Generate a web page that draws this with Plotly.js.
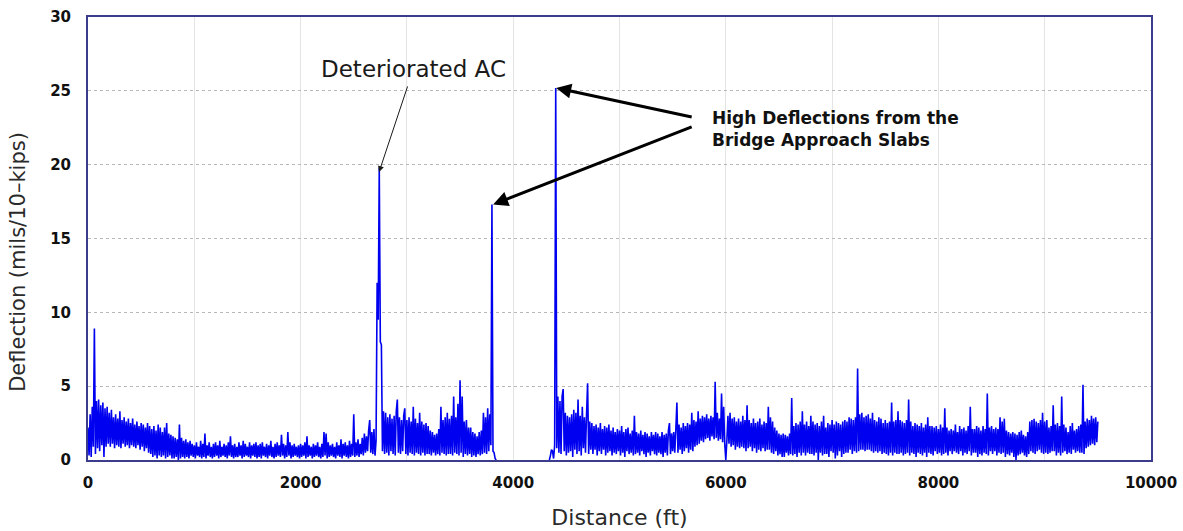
<!DOCTYPE html>
<html>
<head>
<meta charset="utf-8">
<script src="https://cdn.plot.ly/plotly-3.0.1.min.js"></script>
<style>html,body{margin:0;padding:0;background:#fff;}#chart{width:1183px;height:531px;}</style>
</head>
<body>
<div id="chart"></div>
<script>
// Survey stations (ft): each segment starts at a distance and is sampled every 10 ft
const stationStepFt = 10;
const segment1StartFt = 0;
const segment2StartFt = 4340;

// Deflection (mils/10-kips), segment 1: 0 - 3840 ft (one row = 200 ft)
const segment1Deflection = [
  2.2, 0.3, 3.1, 0.2, 3.6, 0.9, 8.9, 0.4, 4.0, 0.8, 4.1, 0.6, 3.7, 1.0, 3.9, 0.2, 3.5, 0.9, 3.6, 1.1,
  3.2, 0.9, 3.4, 1.1, 2.9, 0.8, 3.1, 1.0, 2.8, 0.9, 3.3, 0.8, 2.7, 1.1, 2.9, 0.9, 2.6, 1.0, 2.8, 0.8,
  2.5, 1.0, 2.8, 0.9, 2.4, 0.8, 2.6, 1.0, 2.3, 0.7, 2.5, 0.9, 2.4, 0.6, 2.2, 0.8, 2.5, 0.5, 2.3, 0.4,
  2.1, 0.2, 2.3, 0.3, 2.0, 0.1, 2.4, 0.3, 2.2, 0.2, 1.9, 0.3, 2.2, 0.1, 2.5, 0.2, 1.8, 0.3, 1.7, 0.1,
  1.6, 0.1, 1.5, 0.2, 1.4, 0.0, 2.4, 0.1, 1.5, 0.2, 1.3, 0.1, 1.4, 0.2, 1.2, 0.1, 1.3, 0.3, 1.1, 0.2,
  1.0, 0.1, 1.2, 0.3, 0.9, 0.2, 1.3, 0.1, 1.1, 0.2, 1.8, 0.1, 1.0, 0.3, 1.2, 0.2, 0.9, 0.1, 1.1, 0.2,
  1.2, 0.3, 1.0, 0.1, 1.3, 0.2, 0.9, 0.3, 1.1, 0.2, 1.0, 0.1, 1.2, 0.3, 1.6, 0.2, 1.0, 0.1, 1.1, 0.2,
  0.9, 0.2, 1.2, 0.3, 1.0, 0.1, 1.3, 0.2, 1.1, 0.3, 0.9, 0.2, 1.2, 0.1, 1.0, 0.3, 1.1, 0.2, 1.2, 0.1,
  1.0, 0.2, 1.1, 0.1, 1.2, 0.3, 0.9, 0.2, 1.1, 0.1, 1.0, 0.3, 1.3, 0.2, 0.9, 0.1, 1.1, 0.2, 1.2, 0.3,
  1.0, 0.2, 1.7, 0.3, 1.1, 0.1, 1.0, 0.2, 1.9, 0.3, 1.2, 0.1, 1.0, 0.2, 1.1, 0.3, 0.9, 0.2, 1.0, 0.1,
  1.1, 0.2, 1.0, 0.3, 1.2, 0.1, 1.6, 0.2, 1.0, 0.3, 0.9, 0.1, 1.1, 0.2, 1.0, 0.3, 1.2, 0.2, 0.9, 0.1,
  1.1, 0.2, 1.9, 0.3, 1.8, 0.1, 1.2, 0.2, 1.0, 0.3, 1.1, 0.2, 0.9, 0.1, 1.2, 0.3, 1.0, 0.2, 1.4, 0.1,
  1.1, 0.3, 1.2, 0.2, 1.0, 0.1, 1.3, 0.2, 1.1, 0.3, 3.1, 0.2, 1.2, 0.3, 1.4, 0.2, 1.1, 0.4, 1.5, 0.3,
  1.8, 0.5, 1.6, 0.6, 2.0, 2.7, 0.5, 1.9, 0.4, 2.1, 0.3, 1.3, 12.0, 9.5, 19.8, 8.0, 7.8, 0.6, 3.3, 0.4,
  3.2, 0.5, 2.9, 0.3, 3.1, 0.6, 2.8, 0.4, 3.0, 0.3, 3.3, 4.1, 0.5, 2.9, 0.4, 2.7, 0.6, 3.0, 3.5, 0.4,
  2.7, 0.3, 2.9, 0.5, 2.6, 0.4, 3.6, 0.3, 2.8, 0.5, 2.5, 0.4, 3.2, 0.3, 2.6, 0.5, 2.4, 0.3, 2.5, 0.4,
  2.3, 0.4, 2.0, 0.3, 1.9, 0.5, 1.7, 0.3, 1.8, 0.4, 2.1, 0.3, 3.6, 0.5, 2.7, 0.4, 2.9, 0.3, 3.2, 0.4,
  2.8, 0.4, 3.0, 0.3, 4.3, 0.5, 2.9, 0.4, 3.8, 0.3, 5.4, 0.5, 4.3, 0.2, 2.6, 0.4, 2.7, 0.3, 2.2, 0.4,
  2.2, 0.2, 1.9, 0.3, 1.8, 0.2, 1.6, 0.4, 1.9, 0.3, 2.0, 0.4, 3.2, 0.5, 2.9, 0.4, 3.5, 0.6, 3.1, 1.0,
  17.3, 0.6, 0.5, 0.1, 0.0
];

// Deflection (mils/10-kips), segment 2: 4340 - 9500 ft (one row = 200 ft)
const segment2Deflection = [
  0.0, 0.3, 0.7, 0.6, 0.1, 1.0, 25.2, 0.8, 4.3, 0.5, 4.0, 0.4, 4.3, 4.8, 0.6, 3.2, 0.3, 3.0, 0.5, 2.9,
  0.6, 3.1, 0.2, 3.4, 0.7, 3.2, 0.4, 4.1, 0.6, 3.0, 0.3, 3.6, 0.8, 2.9, 0.5, 3.1, 5.2, 0.4, 2.6, 0.7,
  2.5, 0.4, 2.3, 0.7, 2.4, 0.3, 2.2, 0.6, 2.5, 0.4, 2.1, 0.7, 2.3, 0.3, 2.2, 0.5, 2.4, 0.6, 2.0, 0.3,
  2.2, 0.5, 1.9, 0.4, 2.1, 0.6, 2.0, 0.3, 2.3, 0.5, 1.9, 0.2, 2.1, 0.6, 2.2, 0.4, 1.8, 0.5, 2.0, 0.3,
  3.0, 0.4, 1.9, 0.5, 1.8, 0.3, 2.0, 0.6, 1.7, 0.4, 1.9, 0.2, 1.8, 0.5, 1.6, 0.3, 1.9, 0.6, 1.7, 0.4,
  1.9, 0.3, 1.8, 0.5, 1.6, 0.4, 1.9, 0.2, 1.7, 0.5, 1.8, 0.3, 2.0, 2.5, 0.4, 1.8, 0.6, 1.9, 0.5, 2.1,
  3.9, 0.5, 2.4, 0.7, 2.2, 0.4, 2.5, 0.6, 2.3, 0.8, 2.5, 0.5, 2.4, 0.7, 3.2, 0.6, 2.7, 0.9, 2.6, 1.0,
  3.3, 1.1, 2.8, 1.3, 3.0, 1.2, 2.9, 1.4, 3.1, 1.5, 2.8, 1.3, 3.0, 1.6, 2.9, 1.4, 5.3, 1.5, 3.2, 1.3,
  2.8, 1.4, 4.5, 1.2, 3.6, 1.1, 0.0, 1.3, 3.0, 1.1, 3.2, 0.9, 2.8, 1.0, 2.9, 0.7, 2.6, 0.9, 2.8, 0.8,
  2.6, 0.9, 3.0, 0.8, 2.7, 0.6, 3.7, 0.8, 2.7, 0.9, 2.5, 0.6, 2.8, 0.8, 2.5, 0.5, 2.6, 0.7, 2.8, 0.6,
  2.4, 0.8, 2.6, 0.6, 2.5, 0.7, 3.6, 0.7, 2.9, 0.5, 2.6, 0.4, 2.2, 0.6, 2.0, 0.3, 1.8, 0.4, 1.7, 0.2,
  1.8, 0.2, 1.7, 0.5, 1.6, 0.3, 1.8, 0.4, 4.2, 0.3, 2.3, 0.4, 2.5, 0.2, 2.4, 0.5, 2.6, 0.3, 3.3, 0.5,
  2.4, 0.3, 2.6, 0.5, 2.3, 0.4, 3.0, 0.4, 2.6, 0.3, 2.4, 0.5, 2.5, 0.0, 2.3, 0.5, 2.6, 0.3, 3.0, 0.4,
  2.2, 0.4, 2.5, 0.2, 2.4, 0.6, 2.7, 0.5, 2.4, 0.1, 2.6, 0.3, 2.5, 0.6, 2.4, 0.2, 2.6, 0.4, 2.7, 0.5,
  2.6, 0.5, 2.9, 0.7, 2.8, 0.4, 2.7, 0.6, 2.9, 0.5, 6.2, 0.6, 3.1, 0.7, 3.2, 0.7, 2.9, 0.6, 3.0, 0.7,
  3.1, 0.7, 2.8, 0.6, 3.2, 0.5, 2.7, 0.6, 2.6, 0.5, 2.9, 0.6, 2.8, 0.4, 2.5, 0.5, 2.7, 0.4, 2.5, 0.3,
  2.6, 0.5, 3.9, 0.3, 2.6, 0.5, 2.7, 0.4, 3.3, 0.4, 2.7, 0.5, 2.6, 0.3, 2.5, 0.4, 2.7, 0.5, 4.1, 0.3,
  2.6, 0.5, 2.3, 0.4, 2.5, 0.2, 2.4, 0.5, 2.3, 0.4, 2.5, 0.3, 2.2, 0.5, 2.4, 0.2, 2.9, 0.5, 2.3, 0.4,
  2.3, 0.3, 2.2, 0.6, 2.3, 0.4, 2.1, 0.5, 2.4, 0.3, 2.2, 0.4, 3.5, 0.5, 2.2, 0.3, 2.0, 0.6, 2.1, 0.4,
  2.0, 0.6, 2.4, 0.5, 1.9, 0.4, 2.3, 0.6, 2.1, 0.3, 2.2, 0.5, 2.0, 0.4, 2.3, 0.6, 3.6, 0.3, 2.1, 0.5,
  2.1, 0.5, 2.3, 0.2, 2.2, 0.4, 2.0, 0.3, 2.3, 0.5, 2.1, 0.4, 4.5, 0.3, 2.2, 0.6, 2.3, 0.4, 2.1, 0.6,
  2.2, 0.3, 2.1, 0.5, 2.9, 0.4, 2.6, 0.5, 2.8, 0.2, 2.0, 0.4, 1.9, 0.3, 1.8, 0.5, 1.9, 0.2, 1.8, 0.0,
  1.7, 0.3, 1.9, 0.4, 2.0, 0.5, 1.7, 0.3, 1.6, 0.2, 1.9, 0.4, 2.6, 0.6, 2.7, 0.5, 2.8, 0.4, 2.6, 0.6,
  2.5, 0.7, 2.7, 0.5, 3.2, 0.4, 2.6, 0.5, 2.7, 0.4, 2.2, 0.5, 2.3, 0.6, 3.7, 0.6, 2.4, 0.3, 2.5, 0.5,
  2.3, 0.3, 4.3, 0.5, 2.4, 0.6, 2.2, 0.4, 1.9, 0.5, 2.3, 0.4, 2.5, 0.7, 2.0, 0.5, 2.1, 0.6, 2.3, 0.5,
  2.4, 0.5, 5.1, 0.4, 2.6, 0.8, 2.8, 0.9, 2.7, 1.0, 3.0, 1.1, 2.8, 1.0, 2.9, 1.2, 2.6
];

// Axis ticks
const xTickValues = [0, 2000, 4000, 6000, 8000, 10000];
const xTickLabels = ['0', '2000', '4000', '6000', '8000', '10000'];
const yTickValues = [0, 5, 10, 15, 20, 25, 30];
const yTickLabels = ['0', '5', '10', '15', '20', '25', '30'];

// Texts
const labelDeteriorated = 'Deteriorated AC';
const labelBridge = 'High Deflections from the<br>Bridge Approach Slabs';
const xTitle = 'Distance (ft)';
const yTitle = 'Deflection (mils/10\u2013kips)';

// Build the line: segment 1, a break (no data over the bridge), segment 2
const xs = [], ys = [];
segment1Deflection.forEach((v, i) => { xs.push(segment1StartFt + i * stationStepFt); ys.push(v); });
xs.push(null); ys.push(null);
segment2Deflection.forEach((v, i) => { xs.push(segment2StartFt + i * stationStepFt); ys.push(v); });

const FONT = 'DejaVu Sans, Arial, sans-serif';
const frameColor = '#3c3c8c';

const trace = {
  x: xs, y: ys, type: 'scatter', mode: 'lines',
  line: {color: '#0000f0', width: 1.6, simplify: false},
  connectgaps: false, hoverinfo: 'skip'
};

const layout = {
  width: 1183, height: 531,
  margin: {l: 88, r: 32, t: 17, b: 71},
  paper_bgcolor: '#ffffff', plot_bgcolor: '#ffffff',
  showlegend: false,
  font: {family: FONT, color: '#111111'},
  xaxis: {
    range: [0, 10000], tickmode: 'array', tickvals: xTickValues, ticktext: xTickLabels,
    ticks: '', ticklabelstandoff: 8,
    tickfont: {family: FONT, size: 15, color: '#111111', weight: 'bold'},
    showgrid: true, gridcolor: '#e4e4e4', gridwidth: 1,
    minor: {tickmode: 'linear', tick0: 0, dtick: 1000, showgrid: true, gridcolor: '#e4e4e4', gridwidth: 1},
    zeroline: false, showline: true, mirror: true, linecolor: frameColor, linewidth: 2,
    title: {text: xTitle, font: {family: FONT, size: 22, color: '#2a2a2a'}, standoff: 19},
    automargin: false
  },
  yaxis: {
    range: [0, 30], tickmode: 'array', tickvals: yTickValues, ticktext: yTickLabels,
    ticks: '', ticklabelstandoff: 12,
    tickfont: {family: FONT, size: 15, color: '#111111', weight: 'bold'},
    showgrid: true, gridcolor: '#b8b8b8', gridwidth: 1, griddash: 'dot',
    zeroline: false, showline: true, mirror: true, linecolor: frameColor, linewidth: 2,
    automargin: false
  },
  annotations: [
    {x: -0.066, y: 0.447, xref: 'paper', yref: 'paper', text: yTitle, showarrow: false,
     textangle: -90, xanchor: 'center', yanchor: 'middle',
     font: {family: FONT, size: 21, color: '#2a2a2a'}},
    {x: 3058, y: 26.5, xref: 'x', yref: 'y', text: labelDeteriorated, showarrow: false,
     xanchor: 'center', yanchor: 'middle', font: {family: FONT, size: 23, color: '#1a1a1a'}},
    {x: 2738, y: 19.5, xref: 'x', yref: 'y', ax: 3011, ay: 25.4, axref: 'x', ayref: 'y',
     text: '', showarrow: true, arrowhead: 2, arrowsize: 1.2, arrowwidth: 1, arrowcolor: '#1a1a1a'},
    {x: 5853, y: 22.4, xref: 'x', yref: 'y', text: labelBridge, showarrow: false,
     xanchor: 'left', yanchor: 'middle', align: 'left',
     font: {family: FONT, size: 17, color: '#111111', weight: 'bold'}},
    {x: 4404, y: 25.2, xref: 'x', yref: 'y', ax: 5693, ay: 23.2, axref: 'x', ayref: 'y',
     text: '', showarrow: true, arrowhead: 2, arrowsize: 1, arrowwidth: 3, arrowcolor: '#000000'},
    {x: 3811, y: 17.3, xref: 'x', yref: 'y', ax: 5693, ay: 22.6, axref: 'x', ayref: 'y',
     text: '', showarrow: true, arrowhead: 2, arrowsize: 1, arrowwidth: 3, arrowcolor: '#000000'}
  ]
};

Plotly.newPlot('chart', [trace], layout, {staticPlot: true, displayModeBar: false});
</script>
</body>
</html>
